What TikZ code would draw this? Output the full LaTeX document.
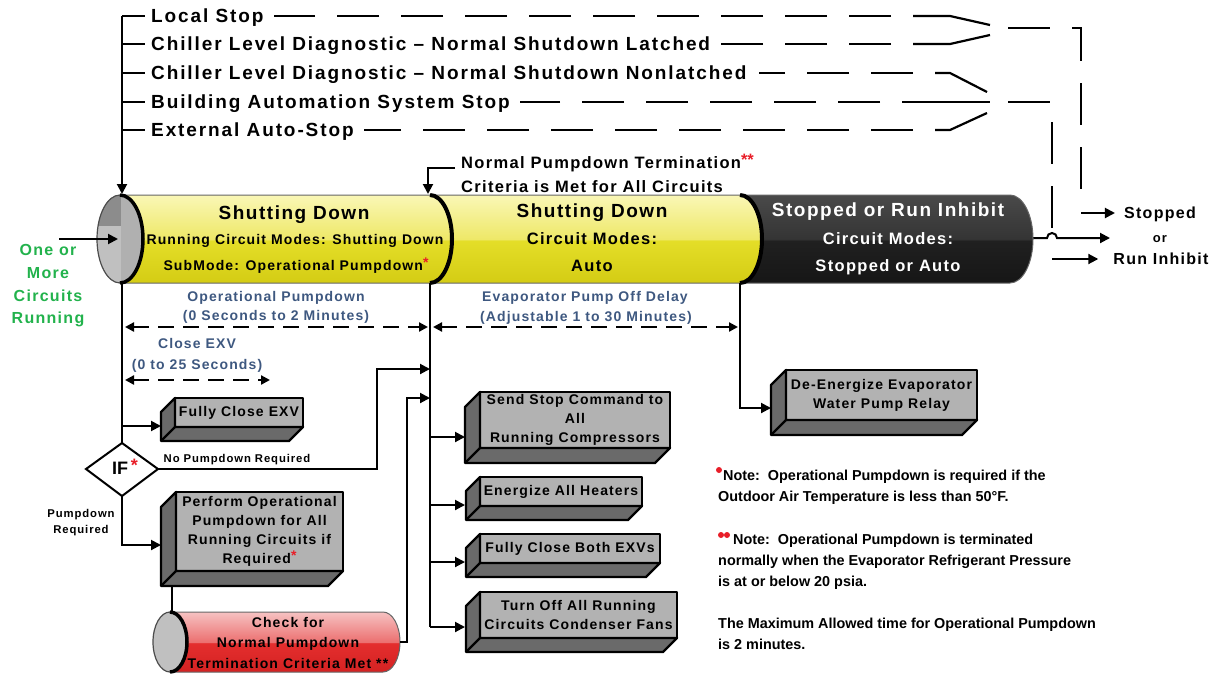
\documentclass[tikz,border=0pt]{standalone}
\usepackage{fontspec}
\setmainfont{Liberation Sans}
\newfontfamily\trk{Liberation Sans}[LetterSpace=8]
\newfontfamily\trkw{Liberation Sans}[LetterSpace=10]
\usetikzlibrary{arrows.meta,calc}

\definecolor{ylA}{RGB}{250,247,182}
\definecolor{ylB}{RGB}{238,232,104}
\definecolor{ylC}{RGB}{228,222,40}
\definecolor{ylD}{RGB}{212,204,20}
\definecolor{kA}{RGB}{74,74,74}
\definecolor{kB}{RGB}{52,52,52}
\definecolor{kC}{RGB}{32,32,32}
\definecolor{kD}{RGB}{22,22,22}
\definecolor{rA}{RGB}{246,194,194}
\definecolor{rB}{RGB}{236,112,112}
\definecolor{rC}{RGB}{228,46,46}
\definecolor{rD}{RGB}{212,34,34}
\definecolor{dimblue}{RGB}{62,88,128}
\definecolor{grn}{RGB}{34,178,76}
\definecolor{astred}{RGB}{232,30,40}
\definecolor{frontc}{RGB}{178,178,178}
\definecolor{sidec}{RGB}{106,106,106}
\definecolor{capL}{RGB}{192,192,192}
\definecolor{capD}{RGB}{140,140,140}
\definecolor{capM}{RGB}{176,176,176}

\pgfdeclareverticalshading{ycyl}{100bp}{color(0bp)=(ylD); color(25bp)=(ylD); color(49bp)=(ylC); color(50bp)=(ylB); color(75bp)=(ylA); color(100bp)=(ylA)}
\pgfdeclareverticalshading{kcyl}{100bp}{color(0bp)=(kD); color(25bp)=(kD); color(49bp)=(kC); color(50bp)=(kB); color(75bp)=(kA); color(100bp)=(kA)}
\pgfdeclareverticalshading{rcyl}{100bp}{color(0bp)=(rD); color(25bp)=(rD); color(49bp)=(rC); color(50bp)=(rB); color(75bp)=(rA); color(100bp)=(rA)}

\newcommand\rast{\textcolor{astred}{\raisebox{3pt}{*}}}
\newcommand\boxthree[7]{%
  \node[frontbox, anchor=north west, minimum width={#4-#2}, minimum height={#5-#3}] (#1) at (#2,#3) {#7};
  \filldraw[sideface] (#1.north west) -- ++(-#6,#6) -- ++(0,#5-#3) -- ++(#4-#2,0) -- (#1.south east) -- (#1.south west) -- cycle;
  \draw[sideface] (#1.south west) -- ++(-#6,#6);
}

\begin{document}
\begin{tikzpicture}[x=1pt,y=-1pt,
  conn/.style={draw=black, line width=2pt},
  arr/.style={conn, -{Triangle[length=10pt,width=10pt]}},
  dimarr/.style={draw=black, line width=2.2pt, dash pattern=on 16pt off 9pt, {Triangle[length=9pt,width=9pt]}-{Triangle[length=9pt,width=9pt]}},
  sig/.style={draw=black, line width=2.2pt, dash pattern=on 42pt off 22pt},
  sigs/.style={draw=black, line width=2.2pt},
  f19w/.style={inner sep=0pt, text depth=0pt, text height=13.6pt, font=\trkw\bfseries\fontsize{19}{22}\selectfont},
  f19/.style={inner sep=0pt, text depth=0pt, text height=13.6pt, font=\trk\bfseries\fontsize{19}{22}\selectfont},
  f165/.style={inner sep=0pt, text depth=0pt, text height=11.8pt, font=\trk\bfseries\fontsize{16.5}{19}\selectfont},
  f16/.style={inner sep=0pt, text depth=0pt, text height=11.5pt, font=\trk\bfseries\fontsize{16}{19}\selectfont},
  f14/.style={inner sep=0pt, text depth=0pt, text height=10pt, font=\trk\bfseries\fontsize{14}{17}\selectfont},
  f11/.style={inner sep=0pt, text depth=0pt, text height=8.1pt, font=\trk\bfseries\fontsize{11.3}{15}\selectfont},
  notef/.style={anchor=west, inner sep=0pt, text depth=0pt, text height=10.3pt, font=\bfseries\fontsize{14.4}{17}\selectfont},
  frontbox/.style={draw=black, line width=2.4pt, fill=frontc, outer sep=0pt, inner sep=0pt, align=center, line join=round, font=\trk\bfseries\fontsize{14}{19}\selectfont},
  sideface/.style={draw=black, line width=2.4pt, fill=sidec, line join=round},
  cylsec/.style={draw=black!60, line width=1pt},
  rim/.style={draw=black, line width=4pt},
]
\useasboundingbox (0,0) rectangle (1215,675);

% ---------- top stop sources ----------
\node[f19w, anchor=west] (ls)  at (151,16)  {Local Stop};
\node[f19w, anchor=west] (cl)  at (151,44)  {Chiller Level Diagnostic – Normal Shutdown Latched};
\node[f19w, anchor=west] (cn)  at (151,73)  {Chiller Level Diagnostic – Normal Shutdown Nonlatched};
\node[f19w, anchor=west] (bas) at (151,102) {Building Automation System Stop};
\node[f19w, anchor=west] (eas) at (151,130) {External Auto-Stop};

\coordinate (trTop) at (122,16);
\coordinate (cylInA) at (122,194);
\draw[arr] (trTop) -- (cylInA);
\foreach \n in {ls,cl,cn,bas,eas} \draw[conn] (\n.west -| trTop) -- ($(\n.west)+(-6,0)$);

% dashed stop signals converging into switch points
\draw[sig] (891,16) -- ($(ls.east)+(10,0)$);
\draw[sigs] (913,16) -- (950,16) -- (990,25);
\draw[sig] (891,44) -- ($(cl.east)+(10,0)$);
\draw[sigs] (913,44) -- (950,44) -- (990,35);
\draw[sig] (913,73) -- ($(cn.east)+(12,0)$);
\draw[sigs] (935,73) -- (950,73) -- (987,92);
\draw[sig] (880,102) -- ($(bas.east)+(10,0)$);
\draw[sigs] (902,102) -- (990,102);
\draw[sig] (913,130) -- ($(eas.east)+(10,0)$);
\draw[sigs] (935,130) -- (950,130) -- (987,113);

\coordinate (sw1) at (1008,28);
\coordinate (c1) at (1081,28);
\coordinate (v1end) at (1081,190);
\coordinate (stopJ) at (1081,213);
\coordinate (sw2) at (1008,102);
\coordinate (c2) at (1052,102);
\coordinate (hopTop) at (1052,233);
\draw[sig] (sw1) -- (c1) -- (v1end);
\draw[sig] (sw2) -- (c2) -- (hopTop);

% ---------- outputs ----------
\node[f16] (stp) at (1160,213) {Stopped};
\node[inner sep=0pt, text depth=0pt, text height=7pt, font=\trk\bfseries\fontsize{13}{15}\selectfont] (orx) at (1160,239) {or};
\node[f16] (rinh) at (1161,259) {Run Inhibit};
\draw[arr] (stopJ) -- ($(stp.west)+(-9,0)$);
\coordinate (cylEnd) at (1033,238);
\coordinate (outE) at (1110,238);
\draw[arr] (cylEnd) -- (1047,238) arc[start angle=180,end angle=0,radius=5pt] -- (outE);
\coordinate (riStart) at (1052,259);
\draw[arr] (riStart) -- ($(rinh.west)+(-15,0)$);

% ---------- main cylinder ----------
\shadedraw[cylsec, shading=kcyl] (740,195) -- (1010,195) arc[start angle=90,end angle=-90,x radius=23pt,y radius=44pt] -- (740,283) -- cycle;
\shadedraw[cylsec, shading=ycyl] (430,195) -- (740,195) arc[start angle=90,end angle=-90,x radius=22pt,y radius=44pt] -- (430,283) -- cycle;
\draw[rim] (740,195) arc[start angle=90,end angle=-90,x radius=22pt,y radius=44pt];
\shadedraw[cylsec, shading=ycyl] (120,195) -- (430,195) arc[start angle=90,end angle=-90,x radius=22pt,y radius=44pt] -- (120,283) -- cycle;
\draw[rim] (430,195) arc[start angle=90,end angle=-90,x radius=22pt,y radius=44pt];
\fill[capL] (120,239) ellipse[x radius=23pt, y radius=44pt];
\begin{scope}
  \clip (120,239) ellipse[x radius=23pt, y radius=44pt];
  \fill[capD] (96,194) rectangle (121,226);
  \fill[capM] (121,194) rectangle (145,284);
\end{scope}
\draw[black!70, line width=1.2pt] (120,239) ellipse[x radius=23pt, y radius=44pt];
\draw[rim, line width=3.5pt] (120,195) arc[start angle=90,end angle=-90,x radius=23pt,y radius=44pt];

\node[f19] (s1a) at (294,213) {Shutting Down};
\node[f14] (s1b) at (295,239) {Running Circuit Modes: Shutting Down};
\node[f14] (s1c) at (296,265) {SubMode: Operational Pumpdown\rast};
\node[f19] (s2a) at (592,211) {Shutting Down};
\node[f165] (s2b) at (592,239) {Circuit Modes:};
\node[f165] (s2c) at (592,266) {Auto};
\node[f19, text=white] (s3a) at (888,210) {Stopped or Run Inhibit};
\node[f165, text=white] (s3b) at (888,239) {Circuit Modes:};
\node[f165, text=white] (s3c) at (888,266) {Stopped or Auto};

% ---------- inputs ----------
\node[f16, text=grn] (g1) at (48,250) {One or};
\node[f16, text=grn] (g2) at (48,273) {More};
\node[f16, text=grn] (g3) at (48,296) {Circuits};
\node[f16, text=grn] (g4) at (48,318) {Running};
\coordinate (inS) at (59,239);
\coordinate (inE) at (118,239);
\draw[arr] (inS) -- (inE);

\node[f165, anchor=west] (npA) at (461,163) {Normal Pumpdown Termination\rast\rast};
\node[f165, anchor=west] (npB) at (461,187) {Criteria is Met for All Circuits};
\coordinate (npJ) at (455,168);
\coordinate (cylInB) at (428,194);
\draw[arr] (npJ) -- (npJ -| cylInB) -- (cylInB);

% ---------- durations ----------
\node[f14, text=dimblue] (d1a) at (276,296) {Operational Pumpdown};
\node[f14, text=dimblue] (d1b) at (276,315) {(0 Seconds to 2 Minutes)};
\node[f14, text=dimblue] (d2a) at (585,296) {Evaporator Pump Off Delay};
\node[f14, text=dimblue] (d2b) at (586,316) {(Adjustable 1 to 30 Minutes)};
\node[f14, text=dimblue] (d3a) at (197,343) {Close EXV};
\node[f14, text=dimblue] (d3b) at (197,364) {(0 to 25 Seconds)};
\coordinate (da1) at (125,327); \coordinate (da2) at (428,327);
\coordinate (db1) at (433,327); \coordinate (db2) at (738,327);
\coordinate (dc1) at (125,380); \coordinate (dc2) at (270,380);
\draw[dimarr] (da1) -- (da2);
\draw[dimarr] (db1) -- (db2);
\draw[dimarr] (dc1) -- (dc2);

% ---------- left branch ----------
\coordinate (botA) at (122,283);
\coordinate (ifT) at (122,443);
\coordinate (ifR) at (158,469);
\coordinate (ifB) at (122,496);
\coordinate (ifL) at (86,469);
\draw[conn, fill=white, line join=miter] (ifT) -- (ifR) -- (ifB) -- (ifL) -- cycle;
\node[inner sep=0pt, text depth=0pt, text height=12.5pt, font=\bfseries\fontsize{18}{20}\selectfont] (ifn) at (125,468) {IF\,\rast};
\draw[conn] (botA) -- (ifT);

\boxthree{fce}{175}{398}{303}{427}{14}{Fully Close EXV}
\coordinate (fceJ) at (122,426);
\draw[arr] (fceJ) -- (fceJ -| 161,0);

\node[f11] (npr) at (237,458) {No Pumpdown Required};
\node[f11] (pr1) at (81,513) {Pumpdown};
\node[f11] (pr2) at (81,529) {Required};

\boxthree{pop}{176}{492}{343}{571}{15}{Perform Operational\\Pumpdown for All\\Running Circuits if\\Required\rast}
\coordinate (popIn) at (161,545);
\draw[arr] (ifB) -- (ifB |- popIn) -- (popIn);

% red cylinder
\shadedraw[cylsec, shading=rcyl] (170,612) -- (383,612) arc[start angle=90,end angle=-90,x radius=17pt,y radius=30pt] -- (170,672) -- cycle;
\fill[capL] (170,642) ellipse[x radius=17pt, y radius=30pt];
\draw[black!70, line width=1.2pt] (170,642) ellipse[x radius=17pt, y radius=30pt];
\draw[rim, line width=3.5pt] (170,612) arc[start angle=90,end angle=-90,x radius=17pt,y radius=30pt];
\node[f14] (rc1) at (288,622) {Check for};
\node[f14] (rc2) at (288,642) {Normal Pumpdown};
\node[f14] (rc3) at (288,663) {Termination Criteria Met **};
\coordinate (popOut) at (172,586);
\coordinate (rcTop) at (172,612);
\draw[conn] (popOut) -- (rcTop);

% ---------- middle trunk ----------
\coordinate (botB) at (430,283);
\coordinate (trB) at (430,627);
\draw[conn] (botB) -- (trB);
\coordinate (npIn) at (430,369);
\draw[arr] (ifR) -- (377,469) -- (377,369) -- (npIn);
\coordinate (rcOut) at (400,642);
\coordinate (rcIn) at (430,398);
\draw[arr] (rcOut) -- (407,642) -- (407,398) -- (rcIn);

\boxthree{ssc}{480}{392}{670}{448}{15}{Send Stop Command to\\All\\Running Compressors}
\boxthree{eah}{480}{477}{642}{506}{14}{Energize All Heaters}
\boxthree{fcb}{480}{534}{660}{563}{14}{Fully Close Both EXVs}
\boxthree{tof}{480}{592}{677}{638}{14}{Turn Off All Running\\Circuits Condenser Fans}
\foreach \y in {437,505,562,627} \draw[arr] (430,\y) -- (465,\y);

% ---------- right trunk ----------
\boxthree{dee}{786}{370}{977}{420}{15}{De-Energize Evaporator\\Water Pump Relay}
\coordinate (botC) at (740,283);
\coordinate (deeIn) at (771,408);
\draw[arr] (botC) -- (botC |- deeIn) -- (deeIn);

% ---------- notes ----------
\fill[astred] (719,470) circle (3pt);
\node[notef] (n1) at (723,475) {Note:\ \ Operational Pumpdown is required if the};
\node[notef] (n2) at (718,496) {Outdoor Air Temperature is less than 50°F.};
\fill[astred] (721,535) circle (3pt);
\fill[astred] (727,535) circle (3pt);
\node[notef] (n3) at (733,539) {Note:\ \ Operational Pumpdown is terminated};
\node[notef] (n4) at (718,560) {normally when the Evaporator Refrigerant Pressure};
\node[notef] (n5) at (718,581) {is at or below 20 psia.};
\node[notef] (n6) at (718,623) {The Maximum Allowed time for Operational Pumpdown};
\node[notef] (n7) at (718,644) {is 2 minutes.};
\end{tikzpicture}
\end{document}
